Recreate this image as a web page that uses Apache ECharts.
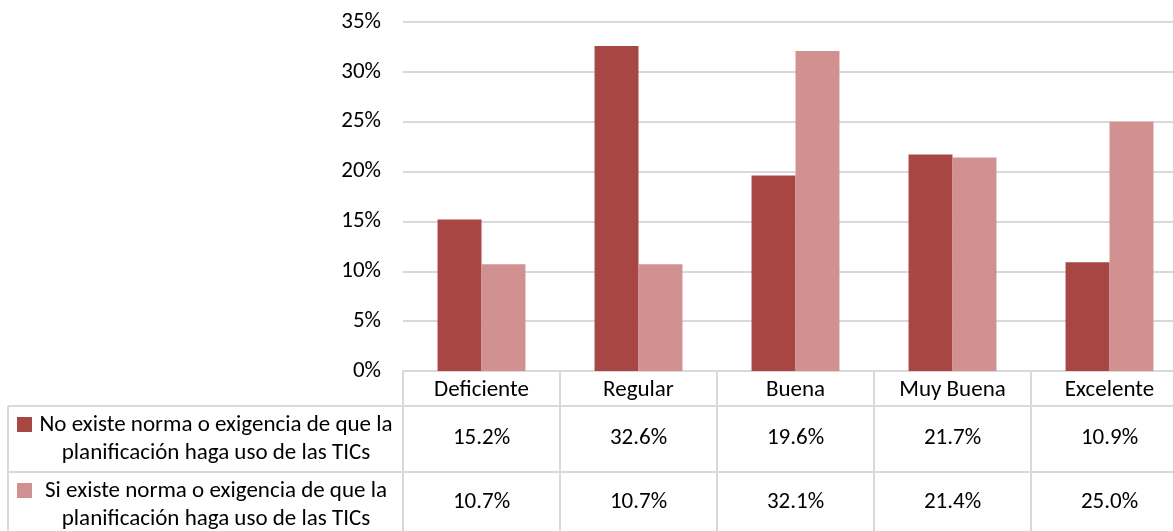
<!DOCTYPE html>
<html>
<head>
<meta charset="utf-8">
<script src="https://cdn.jsdelivr.net/npm/echarts@6/dist/echarts.min.js"></script>
<style>
  html, body { margin: 0; padding: 0; background: #fff; }
  #chart { width: 1173px; height: 531px; }
</style>
</head>
<body>
<div id="chart"></div>
<script>
// data
const categories = ['Deficiente', 'Regular', 'Buena', 'Muy Buena', 'Excelente']
const seriesNames = [
  'No existe norma o exigencia de que la\nplanificación haga uso de las TICs',
  'Si existe norma o exigencia de que la\nplanificación haga uso de las TICs'
]
const noExiste = [15.2, 32.6, 19.6, 21.7, 10.9]
const siExiste = [10.7, 10.7, 32.1, 21.4, 25.0]
const yTicks = [0, 5, 10, 15, 20, 25, 30, 35]

const colors = ['#a84644', '#d29191']
const lineColor = '#d9d9d9'
const font = 'Carlito, Calibri, Lato, sans-serif'
const fs = 23

const chart = echarts.init(document.getElementById('chart'))

function tableAxis(values, offset, tickLen, margin) {
  return {
    type: 'category',
    data: categories,
    position: 'bottom',
    offset: offset,
    axisLine: { show: true, lineStyle: { color: lineColor, width: 2 } },
    axisTick: { show: true, length: tickLen, interval: 0, lineStyle: { color: lineColor, width: 2 } },
    axisLabel: {
      interval: 0,
      margin: margin,
      fontFamily: font,
      fontSize: fs,
      color: '#000',
      formatter: (v, i) => values ? values[i].toFixed(1) + '%' : v
    }
  }
}

chart.setOption({
  animation: false,
  // the last table column runs past the right edge of the picture
  grid: { left: 403, width: 785, top: 22, bottom: 160, outerBoundsMode: 'none' },
  xAxis: [
    tableAxis(null, 0, 35, 8),
    tableAxis(noExiste, 35, 66, 21),
    tableAxis(siExiste, 101, 70, 19)
  ],
  yAxis: {
    type: 'value',
    min: yTicks[0],
    max: yTicks[yTicks.length - 1],
    interval: 5,
    axisLine: { show: false },
    axisTick: { show: false },
    splitLine: { lineStyle: { color: lineColor, width: 2 } },
    axisLabel: {
      margin: 22,
      fontFamily: font,
      fontSize: fs,
      color: '#000',
      formatter: v => v + '%'
    }
  },
  series: [
    {
      name: seriesNames[0],
      type: 'bar',
      data: noExiste,
      barGap: 0,
      barCategoryGap: '44%',
      itemStyle: { color: colors[0] }
    },
    {
      name: seriesNames[1],
      type: 'bar',
      data: siExiste,
      barGap: 0,
      barCategoryGap: '44%',
      itemStyle: { color: colors[1] }
    }
  ],
  graphic: [
    // left column of the data table
    { type: 'line', shape: { x1: 8, y1: 406, x2: 403, y2: 406 }, style: { stroke: lineColor, lineWidth: 2 } },
    { type: 'line', shape: { x1: 8, y1: 472, x2: 403, y2: 472 }, style: { stroke: lineColor, lineWidth: 2 } },
    { type: 'line', shape: { x1: 8, y1: 406, x2: 8, y2: 531 }, style: { stroke: lineColor, lineWidth: 2 } },
    { type: 'rect', shape: { x: 17, y: 417, width: 15, height: 15 }, style: { fill: colors[0] } },
    { type: 'rect', shape: { x: 17, y: 483, width: 15, height: 15 }, style: { fill: colors[1] } },
    {
      type: 'text', x: 216, y: 411,
      style: { text: seriesNames[0], textAlign: 'center', fontFamily: font, fontSize: fs, lineHeight: 28, fill: '#000' }
    },
    {
      type: 'text', x: 216, y: 477,
      style: { text: seriesNames[1], textAlign: 'center', fontFamily: font, fontSize: fs, lineHeight: 28, fill: '#000' }
    }
  ]
})
</script>
</body>
</html>
